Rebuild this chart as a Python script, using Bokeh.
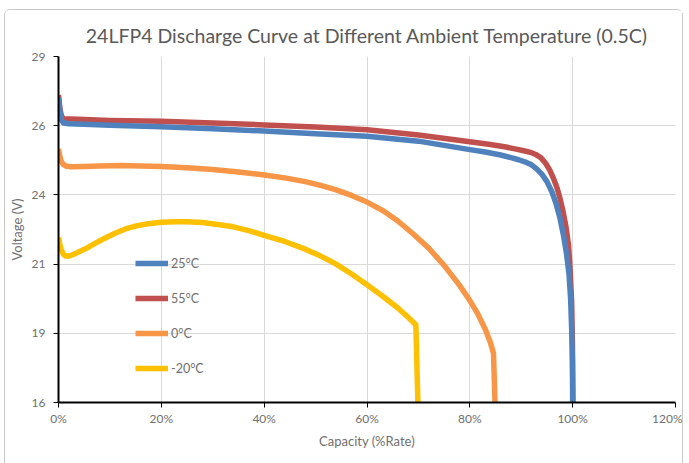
from bokeh.plotting import figure
from bokeh.models import (Legend, LegendItem, FixedTicker, NumeralTickFormatter,
                          Range1d)
from bokeh.embed import file_html
from bokeh.resources import INLINE

# ---- data (capacity as fraction of rated, voltage in V) ----
cap_25 = [0, 0.003, 0.006, 0.01, 0.02, 0.05, 0.1, 0.2, 0.3, 0.4, 0.5, 0.6, 0.7,
          0.8, 0.83, 0.86, 0.88, 0.895, 0.91, 0.92, 0.93, 0.94, 0.95, 0.96,
          0.968, 0.975, 0.982, 0.988, 0.993, 0.996, 0.998, 0.9995, 1.0]
volt_25 = [27.45, 26.9, 26.6, 26.5, 26.47, 26.45, 26.42, 26.36, 26.29, 26.2,
           26.1, 26.0, 25.82, 25.5, 25.41, 25.3, 25.2, 25.12, 25.02, 24.93,
           24.78, 24.58, 24.3, 23.9, 23.45, 22.95, 22.3, 21.6, 20.8, 19.9,
           18.8, 17.6, 16.0]

cap_55 = [0, 0.003, 0.006, 0.01, 0.05, 0.1, 0.2, 0.3, 0.4, 0.5, 0.6, 0.7, 0.8,
          0.84, 0.87, 0.89, 0.905, 0.918, 0.928, 0.938, 0.947, 0.955, 0.962,
          0.969, 0.975, 0.981, 0.987, 0.992, 0.995, 0.998, 0.9995, 1.0005]
volt_55 = [27.55, 27.0, 26.75, 26.66, 26.63, 26.6, 26.57, 26.5, 26.43, 26.35,
           26.25, 26.05, 25.8, 25.69, 25.6, 25.52, 25.46, 25.4, 25.32, 25.2,
           25.0, 24.75, 24.45, 24.1, 23.7, 23.2, 22.6, 21.9, 21.0, 19.8, 18.3,
           16.0]

cap_0 = [0, 0.002, 0.005, 0.009, 0.015, 0.025, 0.05, 0.08, 0.12, 0.16, 0.2,
         0.25, 0.3, 0.35, 0.4, 0.44, 0.48, 0.51, 0.54, 0.57, 0.6, 0.63, 0.66,
         0.69, 0.72, 0.75, 0.78, 0.8, 0.815, 0.83, 0.84, 0.846, 0.849]
volt_0 = [25.53, 25.3, 25.08, 24.95, 24.88, 24.86, 24.87, 24.89, 24.9, 24.89,
          24.87, 24.82, 24.75, 24.66, 24.55, 24.44, 24.3, 24.16, 23.99, 23.78,
          23.53, 23.22, 22.82, 22.33, 21.8, 21.15, 20.4, 19.83, 19.35, 18.75,
          18.25, 17.85, 16.0]

cap_m20 = [0, 0.002, 0.005, 0.009, 0.014, 0.02, 0.03, 0.04, 0.055, 0.07, 0.09,
           0.11, 0.13, 0.15, 0.175, 0.2, 0.225, 0.25, 0.28, 0.31, 0.34, 0.37,
           0.4, 0.44, 0.48, 0.51, 0.54, 0.57, 0.6, 0.63, 0.66, 0.68, 0.695,
           0.699]
volt_m20 = [22.2, 22.0, 21.75, 21.58, 21.5, 21.5, 21.57, 21.66, 21.8, 21.97,
            22.17, 22.36, 22.52, 22.63, 22.72, 22.77, 22.79, 22.79, 22.76,
            22.69, 22.6, 22.46, 22.28, 22.05, 21.76, 21.5, 21.2, 20.83, 20.42,
            20.0, 19.55, 19.2, 18.92, 16.0]

series_labels = ["25°C", "55°C", "0°C", "-20°C"]
x_ticks = [0, 0.2, 0.4, 0.6, 0.8, 1.0, 1.2]
y_ticks = [16, 18.6, 21.2, 23.8, 26.4, 29]

FONT = "Lato"
GRAY = "#6f6f6f"

p = figure(width=679, height=454, output_backend="svg", toolbar_location=None,
           x_range=Range1d(0, 1.2), y_range=Range1d(16, 29),
           min_border_left=52, min_border_right=9, min_border_top=46,
           min_border_bottom=62,
           title="24LFP4 Discharge Curve at Different Ambient Temperature (0.5C)")
p.styles = {"margin-left": "4px", "margin-top": "9px",
            "border": "1px solid #c8c8c8", "border-bottom": "none",
            "border-radius": "6px 6px 0 0"}
p.outline_line_color = None
p.background_fill_color = "white"
p.border_fill_color = "white"

p.title.align = "center"
p.title.text_font = FONT
p.title.text_font_size = "19.5px"
p.title.text_font_style = "normal"
p.title.text_color = "#595959"
p.title.standoff = 20

# axes
p.xaxis.ticker = FixedTicker(ticks=x_ticks)
p.xaxis.formatter = NumeralTickFormatter(format="0%")
p.yaxis.ticker = FixedTicker(ticks=y_ticks)
p.yaxis.formatter = NumeralTickFormatter(format="0")
p.xaxis.axis_label = "Capacity (%Rate)"
p.yaxis.axis_label = "Voltage (V)"
for ax in (p.xaxis, p.yaxis):
    ax.axis_line_color = "black"
    ax.axis_line_width = 2
    ax.major_tick_line_color = "black"
    ax.major_tick_line_width = 1
    ax.major_tick_out = 5
    ax.major_tick_in = 0
    ax.minor_tick_line_color = None
    ax.major_label_text_font = FONT
    ax.major_label_text_font_size = "12px"
    ax.major_label_text_color = GRAY
    ax.axis_label_text_font = FONT
    ax.axis_label_text_font_size = "13px"
    ax.axis_label_text_font_style = "normal"
    ax.axis_label_text_color = GRAY
p.xaxis.major_label_standoff = 3
p.yaxis.major_label_standoff = 8
p.xaxis.axis_label_standoff = 4
p.yaxis.axis_label_standoff = 4

p.xgrid.grid_line_color = "#d9d9d9"
p.ygrid.grid_line_color = "#d9d9d9"
p.xgrid.grid_line_width = 1
p.ygrid.grid_line_width = 1

W = 5.5
r55 = p.line(cap_55, volt_55, line_color="#C0504D", line_width=W, line_join="round")
r25 = p.line(cap_25, volt_25, line_color="#4F81BD", line_width=W, line_join="round")
r0 = p.line(cap_0, volt_0, line_color="#F79646", line_width=W, line_join="round")
rm20 = p.line(cap_m20, volt_m20, line_color="#FFC000", line_width=W, line_join="round")

legend = Legend(items=[LegendItem(label=series_labels[0], renderers=[r25]),
                       LegendItem(label=series_labels[1], renderers=[r55]),
                       LegendItem(label=series_labels[2], renderers=[r0]),
                       LegendItem(label=series_labels[3], renderers=[rm20])],
                location=(77, 24))
legend.background_fill_alpha = 0
legend.border_line_alpha = 0
legend.padding = 0
legend.margin = 0
legend.spacing = 15
legend.glyph_height = 20
legend.glyph_width = 33
legend.label_height = 20
legend.label_standoff = 3
legend.label_text_font = FONT
legend.label_text_font_size = "12.5px"
legend.label_text_color = GRAY
p.add_layout(legend, "center")

open("out.html", "w").write(file_html(p, INLINE))
